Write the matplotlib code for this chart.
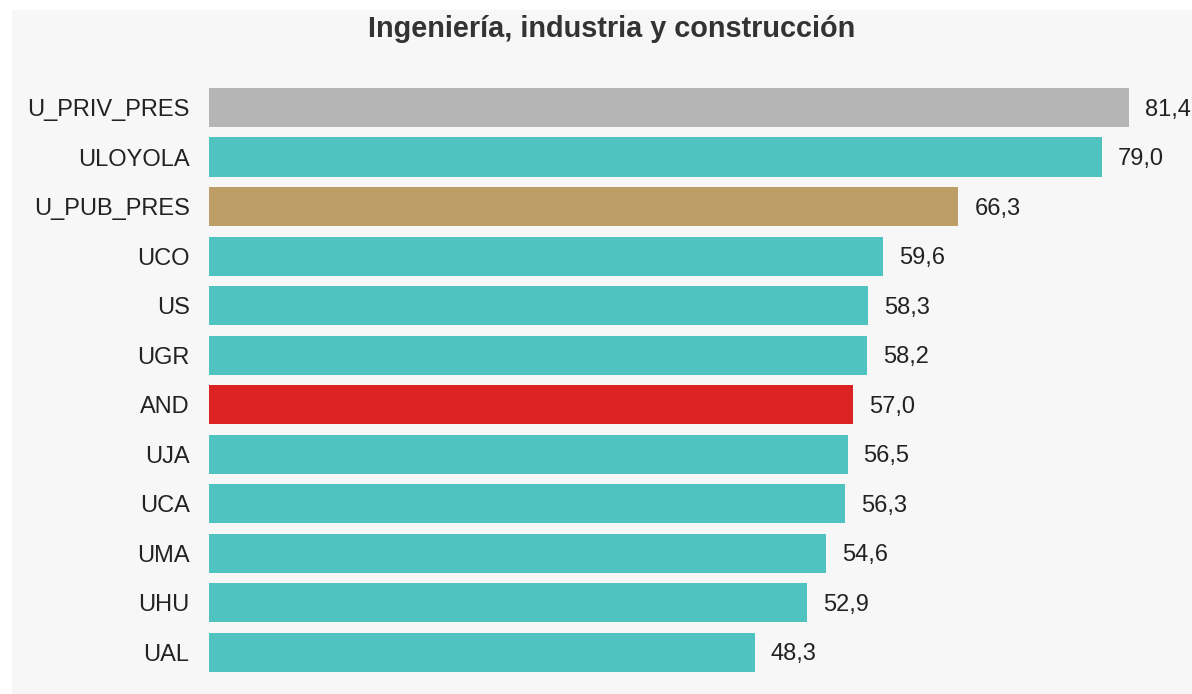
import matplotlib
matplotlib.use("Agg")
import matplotlib.pyplot as plt
from matplotlib.patches import Rectangle

categories = ["U_PRIV_PRES", "ULOYOLA", "U_PUB_PRES", "UCO", "US", "UGR",
              "AND", "UJA", "UCA", "UMA", "UHU", "UAL"]
values = [81.4, 79.0, 66.3, 59.6, 58.3, 58.2, 57.0, 56.5, 56.3, 54.6, 52.9, 48.3]
bar_colors = ["#b5b5b5", "#4fc3bf", "#bd9e66", "#4fc3bf", "#4fc3bf", "#4fc3bf",
              "#dc2323", "#4fc3bf", "#4fc3bf", "#4fc3bf", "#4fc3bf", "#4fc3bf"]
title = "Ingeniería, industria y construcción"

plt.rcParams['font.family'] = ['Liberation Sans', 'DejaVu Sans']

W, H = 1192, 694
fig = plt.figure(figsize=(W / 100, H / 100), dpi=100)
fig.patch.set_facecolor("white")
fig.patches.append(Rectangle((12 / W, 0), 1 - 12 / W, 1 - 10 / H,
                             transform=fig.transFigure, facecolor="#f7f7f7",
                             edgecolor="none", zorder=-10))

ax_left, ax_right = 209, 1192
ax_top, ax_bottom = 58, 682
ax = fig.add_axes([ax_left / W, 1 - ax_bottom / H, (ax_right - ax_left) / W,
                   (ax_bottom - ax_top) / H])
ax.set_facecolor("none")

px_per_unit = (1129 - 209) / 81.4
ax.set_xlim(0, (ax_right - ax_left) / px_per_unit)
ax.set_ylim(11.6, -1.0)

y = list(range(len(categories)))
ax.barh(y, values, height=0.79, color=bar_colors, edgecolor="none")
for yi, v in zip(y, values):
    ax.annotate(f"{v:.1f}".replace(".", ","), xy=(v, yi), xytext=(16, -2),
                textcoords="offset pixels", va="center", ha="left",
                fontsize=17, color="#222222")

ax.set_yticks(y)
ax.set_yticklabels(categories, fontsize=17, color="#222222")
ax.tick_params(axis="y", length=0, pad=14)
ax.set_xticks([])
for s in ax.spines.values():
    s.set_visible(False)

fig.text(612 / W, 1 - 29 / H, title, ha="center", va="center",
         fontsize=20.8, fontweight="bold", color="#333333")

fig.savefig("out.png", dpi=100, facecolor=fig.get_facecolor())
